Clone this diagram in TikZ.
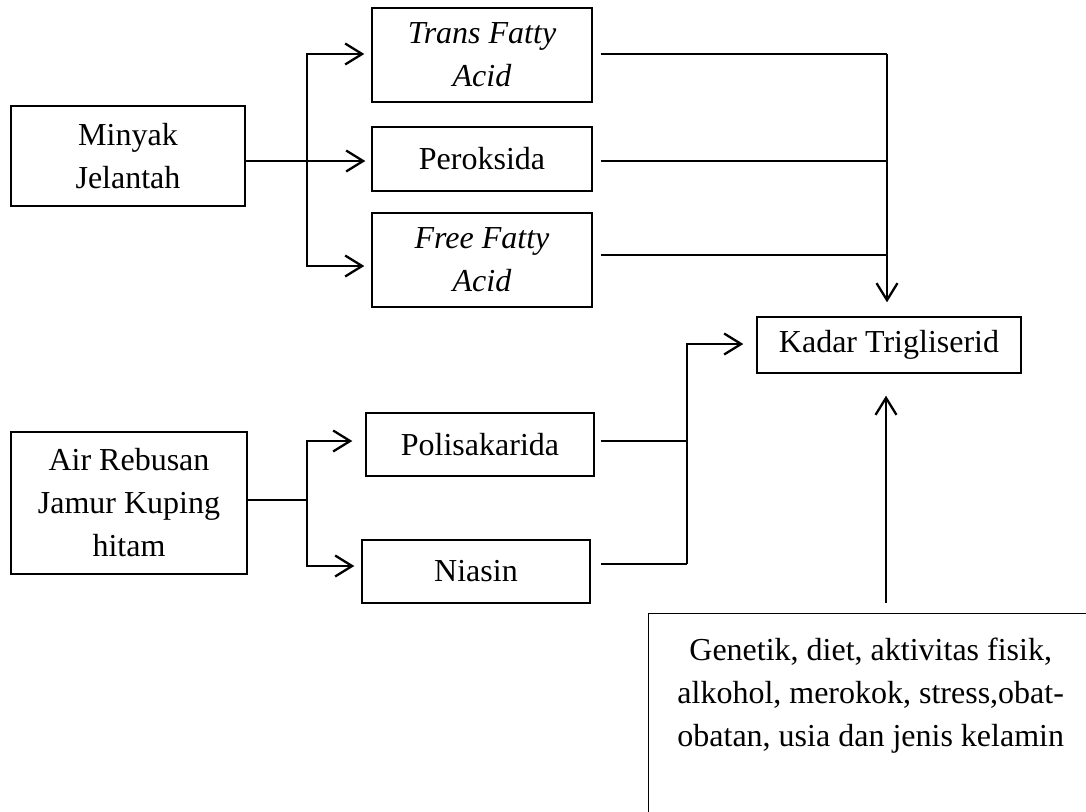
\documentclass[tikz,border=0pt]{standalone}
\usepackage{fontspec}
\setmainfont{Liberation Serif}
\usetikzlibrary{arrows.meta}
\tikzset{
  box/.style={draw, line width=1.4pt, inner sep=0pt, align=center, font=\fontsize{32}{43}\selectfont},
  ln/.style={line width=2.3pt},
  arr/.style={line width=2.3pt, -{Straight Barb[length=17pt, width=21pt, line width=2.3pt]}}
}
\begin{document}
\begin{tikzpicture}[x=1pt, y=-1pt]
\useasboundingbox (0,0) rectangle (1086,811);
\clip (0,0) rectangle (1086,811);
% nodes
\node[box, minimum width=234pt, minimum height=100pt] (minyak) at (128,156) {Minyak\\Jelantah};
\node[box, minimum width=220pt, minimum height=94pt] (trans) at (482,55) {\textit{Trans Fatty}\\\textit{Acid}};
\node[box, minimum width=220pt, minimum height=64pt] (perok) at (482,159) {Peroksida};
\node[box, minimum width=220pt, minimum height=94pt] (free) at (482,260) {\textit{Free Fatty}\\\textit{Acid}};
\node[box, minimum width=264pt, minimum height=56pt] (kadar) at (889,345) {Kadar Trigliserid};
\node[box, minimum width=228pt, minimum height=63pt] (poli) at (480,444.5) {Polisakarida};
\node[box, minimum width=228pt, minimum height=63pt] (niasin) at (476,571.5) {Niasin};
\node[box, minimum width=236pt, minimum height=142pt] (air) at (129,503) {Air Rebusan\\Jamur Kuping\\hitam};
\node[box, anchor=north west] (faktor) at (648,613)
  {\parbox[t][260pt][t]{444pt}{\vspace*{24pt}\centering Genetik, diet, aktivitas fisik,\\alkohol, merokok, stress,obat-\\obatan, usia dan jenis kelamin}};
% coordinates
\coordinate (b1) at (307,161);
\coordinate (j1) at (887,54);
\coordinate (j1b) at (887,161);
\coordinate (j1c) at (887,255);
\coordinate (b2) at (307,500);
\coordinate (j2) at (687,441);
\coordinate (j3) at (687,564);
\coordinate (f1) at (886,603);
% upper connectors
\draw[ln] ([yshift=-5pt]minyak.east) -- (b1);
\draw[arr, shorten >=6pt] (b1) -- ([yshift=-2pt]perok.west);
\draw[arr, shorten >=7pt] (b1) |- ([yshift=1pt]trans.west);
\draw[arr, shorten >=7pt] (b1) |- ([yshift=-6pt]free.west);
\draw[ln, shorten <=8pt] ([yshift=1pt]trans.east) -- (j1);
\draw[ln, shorten <=8pt] ([yshift=-2pt]perok.east) -- (j1b);
\draw[ln, shorten <=8pt] ([yshift=5pt]free.east) -- (j1c);
\draw[arr, shorten >=14pt] (j1) -- (kadar.north -| j1);
% lower connectors
\draw[ln] (air.east |- b2) -- (b2);
\draw[arr, shorten >=13pt] (b2) |- ([yshift=3.5pt]poli.west);
\draw[arr, shorten >=7pt] (b2) |- ([yshift=5.5pt]niasin.west);
\draw[ln, shorten <=6pt] ([yshift=3.5pt]poli.east) -- (j2);
\draw[ln, shorten <=10pt] ([yshift=7.5pt]niasin.east) -- (j3);
\draw[arr, shorten >=13pt] (j3) |- ([yshift=1pt]kadar.west);
\draw[arr, shorten >=22pt] (f1) -- (kadar.south -| f1);
\end{tikzpicture}
\end{document}
